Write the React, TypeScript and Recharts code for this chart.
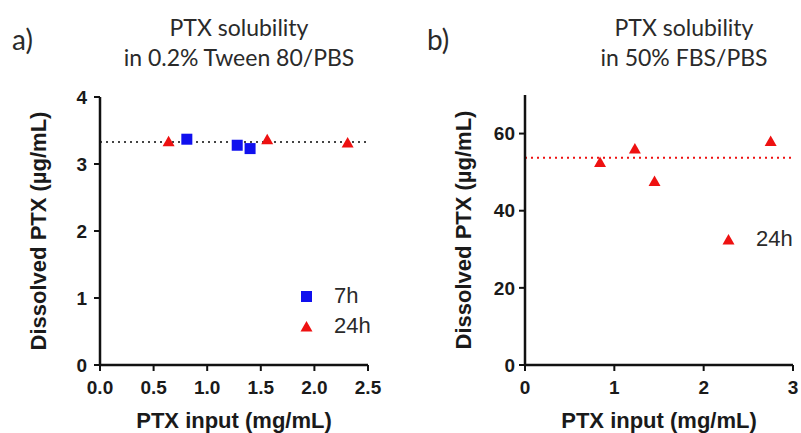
import React from 'react';
import {
  ScatterChart,
  Scatter,
  XAxis,
  YAxis,
  ReferenceLine,
  Legend,
} from 'recharts';

// panel a: 0.2% Tween 80/PBS
const tweenInput7h = [0.81, 1.28, 1.4];
const tweenSol7h = [3.37, 3.28, 3.23];
const tweenInput24h = [0.64, 1.56, 2.31];
const tweenSol24h = [3.34, 3.37, 3.32];
const tweenMean = 3.33;
const tweenXTicks = [0, 0.5, 1, 1.5, 2, 2.5];
const tweenYTicks = [0, 1, 2, 3, 4];

// panel b: 50% FBS/PBS
const fbsInput24h = [0.84, 1.23, 1.45, 2.75];
const fbsSol24h = [52.6, 56.1, 47.7, 58.1];
const fbsMean = 53.7;
const fbsXTicks = [0, 1, 2, 3];
const fbsYTicks = [0, 20, 40, 60];

const seriesOrder = ['7h', '24h'];

const BLUE = '#1010ee';
const RED = '#ee1111';
const INK = '#1a1a1a';

const toPoints = (xs: number[], ys: number[]) => xs.map((x, i) => ({ x, y: ys[i] }));

const SquareDot = (props: any) => {
  const { cx, cy, fill } = props;
  return <rect x={cx - 5.5} y={cy - 5.5} width={11} height={11} fill={fill} />;
};

const TriangleDot = (props: any) => {
  const { cx, cy, fill } = props;
  return (
    <polygon
      points={`${cx},${cy - 5.5} ${cx + 6},${cy + 5} ${cx - 6},${cy + 5}`}
      fill={fill}
    />
  );
};

const renderLegend = (props: any) => {
  const items = [...(props.payload || [])].sort(
    (a: any, b: any) => seriesOrder.indexOf(a.value) - seriesOrder.indexOf(b.value)
  );
  return (
    <div>
      {items.map((entry: any) => (
        <div
          key={entry.value}
          style={{ display: 'flex', alignItems: 'center', height: 30 }}
        >
          <svg width={13} height={13} style={{ marginRight: 21 }}>
            {entry.value === '7h' ? (
              <rect x={1} y={1} width={11} height={11} fill={BLUE} />
            ) : (
              <polygon points="6.5,1 12.5,11.5 0.5,11.5" fill={RED} />
            )}
          </svg>
          <span
            style={{
              fontFamily: 'Liberation Sans, Arial, sans-serif',
              fontSize: 22,
              color: '#2a2a2a',
              lineHeight: '22px',
            }}
          >
            {entry.value}
          </span>
        </div>
      ))}
    </div>
  );
};

const tickStyle = {
  fill: INK,
  fontSize: 19,
  fontWeight: 'bold' as const,
  fontFamily: 'Liberation Sans, Arial, sans-serif',
};

const axisTitleStyle = {
  fill: INK,
  fontSize: 22,
  fontWeight: 'bold' as const,
  fontFamily: 'Liberation Sans, Arial, sans-serif',
  textAnchor: 'middle' as const,
};

const titleFont = {
  position: 'absolute' as const,
  fontFamily: 'Lato, "Open Sans", sans-serif',
  color: '#2a2a2a',
  textAlign: 'center' as const,
};

export default function App() {
  return (
    <div
      style={{
        position: 'absolute',
        left: 0,
        top: 0,
        width: 801,
        height: 433,
        background: '#fff',
        overflow: 'hidden',
      }}
    >
      <div style={{ ...titleFont, left: 12, top: 22, fontSize: 28 }}>a)</div>
      <div style={{ ...titleFont, left: 427, top: 22, fontSize: 28 }}>b)</div>
      <div style={{ ...titleFont, left: 80, width: 318, top: 12, fontSize: 23, lineHeight: '30px' }}>
        PTX solubility
        <br />
        in 0.2% Tween 80/PBS
      </div>
      <div style={{ ...titleFont, left: 525, width: 318, top: 12, fontSize: 23, lineHeight: '30px' }}>
        PTX solubility
        <br />
        in 50% FBS/PBS
      </div>

      <div style={{ position: 'absolute', left: 0, top: 0 }}>
        <ScatterChart
          width={400}
          height={433}
          margin={{ top: 97, right: 32, bottom: 38, left: 0 }}
        >
          <XAxis
            type="number"
            dataKey="x"
            domain={[0, 2.5]}
            ticks={tweenXTicks}
            tickFormatter={(v: number) => v.toFixed(1)}
            height={30}
            tickSize={6}
            tickMargin={10}
            tick={tickStyle}
            axisLine={{ stroke: '#111', strokeWidth: 2.5 }}
            tickLine={{ stroke: '#111', strokeWidth: 2 }}
            label={{
              value: 'PTX input (mg/mL)',
              position: 'bottom',
              offset: 17,
              style: axisTitleStyle,
            }}
          />
          <YAxis
            type="number"
            dataKey="y"
            domain={[0, 4]}
            ticks={tweenYTicks}
            width={100}
            tickSize={6}
            tickMargin={7}
            tick={tickStyle}
            axisLine={{ stroke: '#111', strokeWidth: 2.5 }}
            tickLine={{ stroke: '#111', strokeWidth: 2 }}
            label={{
              value: 'Dissolved PTX (µg/mL)',
              angle: -90,
              position: 'insideLeft',
              offset: 38,
              style: axisTitleStyle,
            }}
          />
          <ReferenceLine
            y={tweenMean}
            stroke="#444"
            strokeWidth={2}
            strokeDasharray="2 4"
          />
          <Scatter
            name="7h"
            data={toPoints(tweenInput7h, tweenSol7h)}
            fill={BLUE}
            shape={SquareDot}
            isAnimationActive={false}
          />
          <Scatter
            name="24h"
            data={toPoints(tweenInput24h, tweenSol24h)}
            fill={RED}
            shape={TriangleDot}
            isAnimationActive={false}
          />
          <Legend
            layout="vertical"
            align="center"
            verticalAlign="middle"
            content={renderLegend}
            wrapperStyle={{ left: 300, top: 281, width: 90 }}
          />
        </ScatterChart>
      </div>

      <div style={{ position: 'absolute', left: 400, top: 0 }}>
        <ScatterChart
          width={401}
          height={433}
          margin={{ top: 95, right: 8, bottom: 38, left: 0 }}
        >
          <XAxis
            type="number"
            dataKey="x"
            domain={[0, 3]}
            ticks={fbsXTicks}
            height={30}
            tickSize={6}
            tickMargin={10}
            tick={tickStyle}
            axisLine={{ stroke: '#111', strokeWidth: 2.5 }}
            tickLine={{ stroke: '#111', strokeWidth: 2 }}
            label={{
              value: 'PTX input (mg/mL)',
              position: 'bottom',
              offset: 17,
              style: axisTitleStyle,
            }}
          />
          <YAxis
            type="number"
            dataKey="y"
            domain={[0, 70]}
            ticks={fbsYTicks}
            width={125}
            tickSize={6}
            tickMargin={4}
            tick={tickStyle}
            axisLine={{ stroke: '#111', strokeWidth: 2.5 }}
            tickLine={{ stroke: '#111', strokeWidth: 2 }}
            label={{
              value: 'Dissolved PTX (µg/mL)',
              angle: -90,
              position: 'insideLeft',
              offset: 63,
              style: axisTitleStyle,
            }}
          />
          <ReferenceLine
            y={fbsMean}
            stroke={RED}
            strokeWidth={2}
            strokeDasharray="2 4"
          />
          <Scatter
            name="24h"
            data={toPoints(fbsInput24h, fbsSol24h)}
            fill={RED}
            shape={TriangleDot}
            isAnimationActive={false}
          />
          <Legend
            layout="vertical"
            align="center"
            verticalAlign="middle"
            content={renderLegend}
            wrapperStyle={{ left: 322, top: 224, width: 79 }}
          />
        </ScatterChart>
      </div>
    </div>
  );
}
